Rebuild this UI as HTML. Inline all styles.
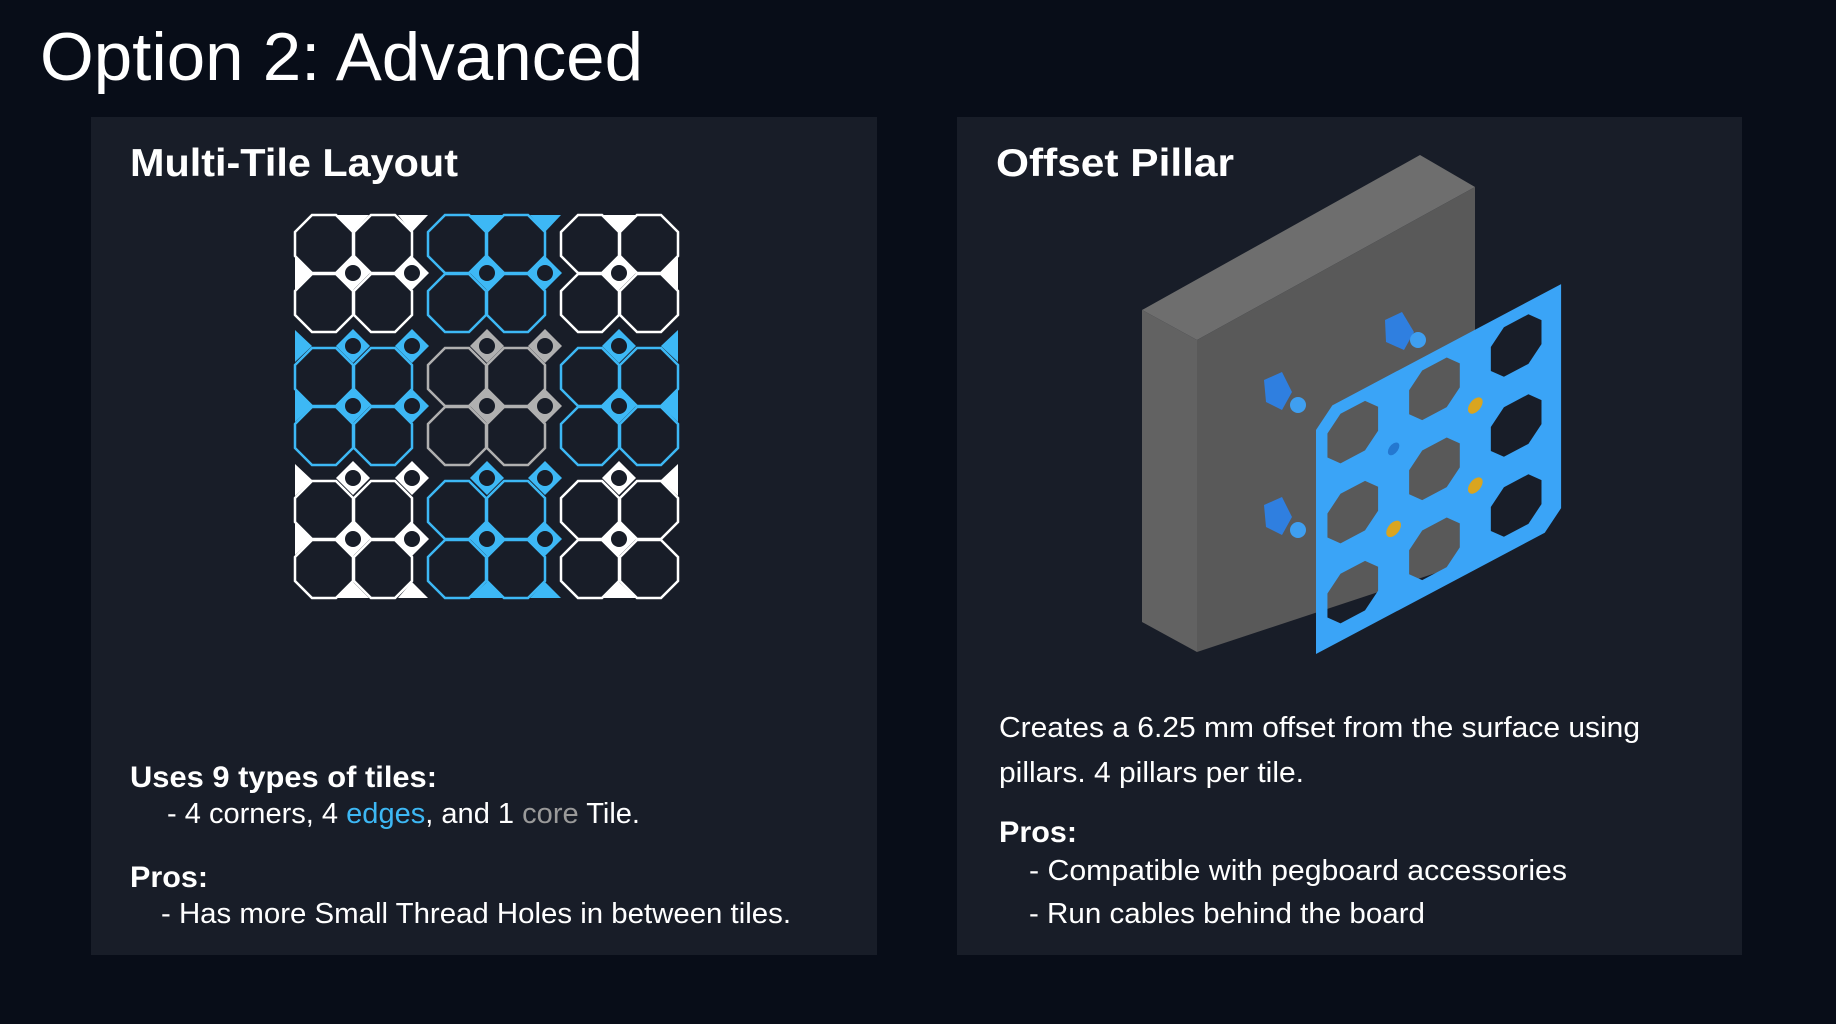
<!DOCTYPE html>
<html><head><meta charset="utf-8"><style>
html,body{margin:0;padding:0;background:#080d18;}
svg{display:block}
text{font-family:"Liberation Sans",sans-serif;fill:#fff}
</style></head><body>
<svg width="1836" height="1024" viewBox="0 0 1836 1024" xmlns="http://www.w3.org/2000/svg">
<defs>
  <polygon id="oct" points="17,0 41,0 58,17 58,41 41,58 17,58 0,41 0,17"/>
  <g id="tile">
    <use href="#oct" x="0" y="0"/><use href="#oct" x="59" y="0"/>
    <use href="#oct" x="0" y="59"/><use href="#oct" x="59" y="59"/>
  </g>
  <g id="hole"><polygon points="0,-17 17,0 0,17 -17,0"/></g>
</defs>
<rect width="1836" height="1024" fill="#080d18"/>
<text x="40" y="80" font-size="68" textLength="603" lengthAdjust="spacingAndGlyphs">Option 2: Advanced</text>

<rect x="91" y="117" width="786" height="838" fill="#181d28"/>
<rect x="957" y="117" width="785" height="838" fill="#181d28"/>

<text x="130" y="176" font-size="39" font-weight="bold" textLength="328" lengthAdjust="spacingAndGlyphs">Multi-Tile Layout</text>
<text x="996" y="176" font-size="39" font-weight="bold" textLength="238" lengthAdjust="spacingAndGlyphs">Offset Pillar</text>

<g stroke-width="2.5" fill="#181d28" stroke-linejoin="miter">
  <g transform="translate(295,215)" stroke="#fff"><use href="#tile"/></g>
  <g transform="translate(428,215)" stroke="#3db8f5"><use href="#tile"/></g>
  <g transform="translate(561,215)" stroke="#fff"><use href="#tile"/></g>
  <g transform="translate(295,348)" stroke="#3db8f5"><use href="#tile"/></g>
  <g transform="translate(428,348)" stroke="#b0b0b0"><use href="#tile"/></g>
  <g transform="translate(561,348)" stroke="#3db8f5"><use href="#tile"/></g>
  <g transform="translate(295,481)" stroke="#fff"><use href="#tile"/></g>
  <g transform="translate(428,481)" stroke="#3db8f5"><use href="#tile"/></g>
  <g transform="translate(561,481)" stroke="#fff"><use href="#tile"/></g>
</g>
<g>
  <g fill="#fff"><use href="#hole" x="353" y="273"/><use href="#hole" x="412" y="273"/><use href="#hole" x="619" y="273"/>
    <use href="#hole" x="353" y="478"/><use href="#hole" x="412" y="478"/><use href="#hole" x="353" y="539"/><use href="#hole" x="412" y="539"/>
    <use href="#hole" x="619" y="478"/><use href="#hole" x="619" y="539"/>
    <polygon points="337,215 369,215 353,232"/><polygon points="398,215 428,215 412,232"/>
    <polygon points="295,257 312,273 295,290"/><polygon points="602,215 636,215 619,232"/>
    <polygon points="678,257 661,273 678,290"/>
    <polygon points="295,464 312,480 295,496"/><polygon points="295,523 312,539 295,555"/>
    <polygon points="337,598 369,598 353,582"/><polygon points="398,598 428,598 412,582"/>
    <polygon points="678,464 661,480 678,496"/><polygon points="602,598 636,598 619,582"/>
  </g>
  <g fill="#3db8f5"><use href="#hole" x="487" y="273"/><use href="#hole" x="545" y="273"/>
    <use href="#hole" x="353" y="346"/><use href="#hole" x="412" y="346"/><use href="#hole" x="353" y="406"/><use href="#hole" x="412" y="406"/>
    <use href="#hole" x="619" y="346"/><use href="#hole" x="619" y="406"/>
    <use href="#hole" x="487" y="478"/><use href="#hole" x="545" y="478"/><use href="#hole" x="487" y="539"/><use href="#hole" x="545" y="539"/>
    <polygon points="470,215 503,215 487,232"/><polygon points="530,215 561,215 545,232"/>
    <polygon points="295,330 312,346 295,362"/><polygon points="295,390 312,406 295,422"/>
    <polygon points="678,330 661,346 678,362"/><polygon points="678,390 661,406 678,422"/>
    <polygon points="470,598 503,598 487,582"/><polygon points="530,598 561,598 545,582"/>
  </g>
  <g fill="#b0b0b0"><use href="#hole" x="487" y="346"/><use href="#hole" x="545" y="346"/><use href="#hole" x="487" y="406"/><use href="#hole" x="545" y="406"/></g>
  <g fill="#181d28">
    <circle cx="353" cy="273" r="8"/><circle cx="412" cy="273" r="8"/><circle cx="619" cy="273" r="8"/><circle cx="487" cy="273" r="8"/><circle cx="545" cy="273" r="8"/>
    <circle cx="353" cy="346" r="8"/><circle cx="412" cy="346" r="8"/><circle cx="353" cy="406" r="8"/><circle cx="412" cy="406" r="8"/>
    <circle cx="487" cy="346" r="8"/><circle cx="545" cy="346" r="8"/><circle cx="487" cy="406" r="8"/><circle cx="545" cy="406" r="8"/>
    <circle cx="619" cy="346" r="8"/><circle cx="619" cy="406" r="8"/>
    <circle cx="353" cy="478" r="8"/><circle cx="412" cy="478" r="8"/><circle cx="353" cy="539" r="8"/><circle cx="412" cy="539" r="8"/>
    <circle cx="487" cy="478" r="8"/><circle cx="545" cy="478" r="8"/><circle cx="487" cy="539" r="8"/><circle cx="545" cy="539" r="8"/>
    <circle cx="619" cy="478" r="8"/><circle cx="619" cy="539" r="8"/>
  </g>
</g>

<polygon points="1142,310 1420,155 1475,187 1197,340" fill="#6e6e6e"/>
<polygon points="1142,310 1197,340 1197,652 1142,622" fill="#626262"/>
<polygon points="1197,340 1475,187 1475,560 1197,652" fill="#595959"/>
<g fill="#2f7fe0">
  <polygon points="1264,380 1282,372 1292,392 1282,410 1266,402"/>
  <polygon points="1385,320 1402,312 1414,332 1404,350 1386,342"/>
  <polygon points="1264,505 1282,497 1292,517 1282,535 1266,527"/>
</g>
<g fill="#3f9ff0"><circle cx="1298" cy="405" r="8"/><circle cx="1418" cy="340" r="8"/><circle cx="1298" cy="530" r="8"/></g>
<g transform="matrix(0.817,-0.433,0,0.8,1316,414)">
  <path fill="#3aa4f7" fill-rule="evenodd" d="M20,0 H300 V280 L280,300 H0 V20 Z
   M30,16 h30 l16,16 v30 l-16,16 h-30 l-16,-16 v-30 z
   M130,16 h30 l16,16 v30 l-16,16 h-30 l-16,-16 v-30 z
   M230,16 h30 l16,16 v30 l-16,16 h-30 l-16,-16 v-30 z
   M30,116 h30 l16,16 v30 l-16,16 h-30 l-16,-16 v-30 z
   M130,116 h30 l16,16 v30 l-16,16 h-30 l-16,-16 v-30 z
   M230,116 h30 l16,16 v30 l-16,16 h-30 l-16,-16 v-30 z
   M30,216 h30 l16,16 v30 l-16,16 h-30 l-16,-16 v-30 z
   M130,216 h30 l16,16 v30 l-16,16 h-30 l-16,-16 v-30 z
   M230,216 h30 l16,16 v30 l-16,16 h-30 l-16,-16 v-30 z"/>
  <g fill="#2478d0"><circle cx="95" cy="95" r="7"/><circle cx="195" cy="95" r="7"/><circle cx="95" cy="195" r="7"/><circle cx="195" cy="195" r="7"/></g>
  <g fill="#d9a520"><circle cx="195" cy="95" r="9"/><circle cx="95" cy="195" r="9"/><circle cx="195" cy="195" r="9"/></g>
</g>

<text x="130" y="787" font-size="30" font-weight="bold" textLength="307" lengthAdjust="spacingAndGlyphs">Uses 9 types of tiles:</text>
<text x="167" y="823" font-size="29" textLength="473" lengthAdjust="spacingAndGlyphs">- 4 corners, 4 <tspan fill="#3db8f5">edges</tspan>, and 1 <tspan fill="#9a9a9a">core</tspan> Tile.</text>
<text x="130" y="887" font-size="30" font-weight="bold" textLength="78" lengthAdjust="spacingAndGlyphs">Pros:</text>
<text x="161" y="923" font-size="29" textLength="630" lengthAdjust="spacingAndGlyphs">- Has more Small Thread Holes in between tiles.</text>

<text x="999" y="737" font-size="29" textLength="641" lengthAdjust="spacingAndGlyphs">Creates a 6.25 mm offset from the surface using</text>
<text x="999" y="782" font-size="29" textLength="305" lengthAdjust="spacingAndGlyphs">pillars. 4 pillars per tile.</text>
<text x="999" y="842" font-size="30" font-weight="bold" textLength="78" lengthAdjust="spacingAndGlyphs">Pros:</text>
<text x="1029" y="880" font-size="29" textLength="538" lengthAdjust="spacingAndGlyphs">- Compatible with pegboard accessories</text>
<text x="1029" y="923" font-size="29" textLength="396" lengthAdjust="spacingAndGlyphs">- Run cables behind the board</text>
</svg>
</body></html>
